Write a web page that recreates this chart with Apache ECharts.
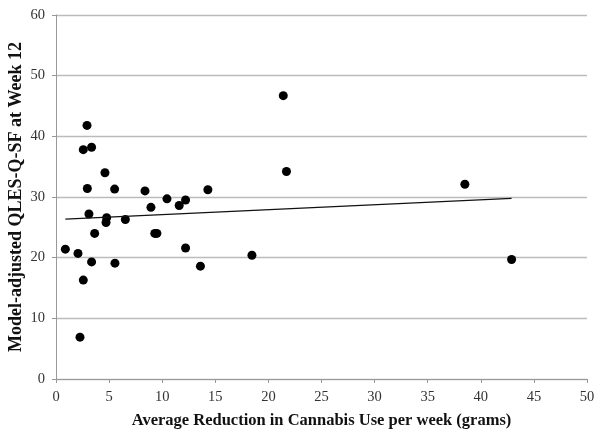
<!DOCTYPE html>
<html><head><meta charset="utf-8">
<script src="https://cdn.jsdelivr.net/npm/echarts@6/dist/echarts.min.js"></script>
<style>html,body{margin:0;padding:0;background:#fff}#c{width:604px;height:438px}</style>
</head><body><div id="c"></div>
<script>
var reductionX = [2.92,2.57,3.35,4.61,2.95,5.52,8.38,10.45,12.2,11.6,8.94,3.1,4.77,4.71,6.53,3.64,9.3,9.5,0.88,2.07,12.2,3.35,5.55,2.57,2.26,13.6,21.4,21.7,14.3,18.45,38.5,42.9];
var qlesY      = [41.8,37.8,38.2,34.0,31.4,31.3,31.0,29.7,29.5,28.6,28.3,27.2,26.6,25.8,26.3,24.0,24.0,24.0,21.4,20.7,21.6,19.3,19.1,16.3,6.9,18.6,46.7,34.2,31.2,20.4,32.1,19.7];
var trendX = [0.88, 42.9];
var trendY = [26.35, 29.77];
var xTicks = [0,5,10,15,20,25,30,35,40,45,50];
var yTicks = [0,10,20,30,40,50,60];

var pts = reductionX.map(function(x,i){return [x,qlesY[i]];});
var trend = trendX.map(function(x,i){return [x,trendY[i]];});
var font = 'Liberation Serif';
var chart = echarts.init(document.getElementById('c'));
chart.setOption({
  animation:false,
  grid:{left:56,right:17,top:15,bottom:59,outerBoundsMode:'none',containLabel:false},
  xAxis:{type:'value',min:xTicks[0],max:xTicks[xTicks.length-1],interval:5,
    name:'Average Reduction in Cannabis Use per week (grams)',nameLocation:'middle',nameGap:33,
    nameMoveOverlap:false,
    nameTextStyle:{fontFamily:font,fontWeight:'bold',fontSize:16.5,color:'#111'},
    axisLine:{lineStyle:{color:'#999',width:1}},
    axisTick:{show:true,length:4,lineStyle:{color:'#999'}},
    axisLabel:{fontFamily:font,fontSize:14.5,color:'#333',margin:11},
    splitLine:{show:false}},
  yAxis:{type:'value',min:yTicks[0],max:yTicks[yTicks.length-1],interval:10,
    name:'Model-adjusted QLES-Q-SF at Week 12',nameLocation:'middle',nameGap:31,
    nameMoveOverlap:false,
    nameTextStyle:{fontFamily:font,fontWeight:'bold',fontSize:18,color:'#111'},
    axisLine:{show:true,lineStyle:{color:'#999',width:1}},
    axisTick:{show:true,length:4,lineStyle:{color:'#999'}},
    axisLabel:{fontFamily:font,fontSize:14.5,color:'#333',margin:11},
    splitLine:{show:true,lineStyle:{color:'#bbb',width:1.3}}},
  series:[
    {type:'scatter',data:pts,symbolSize:9,itemStyle:{color:'#000',opacity:1}},
    {type:'line',data:trend,symbol:'none',lineStyle:{color:'#111',width:1.2}}
  ]
});
</script></body></html>
